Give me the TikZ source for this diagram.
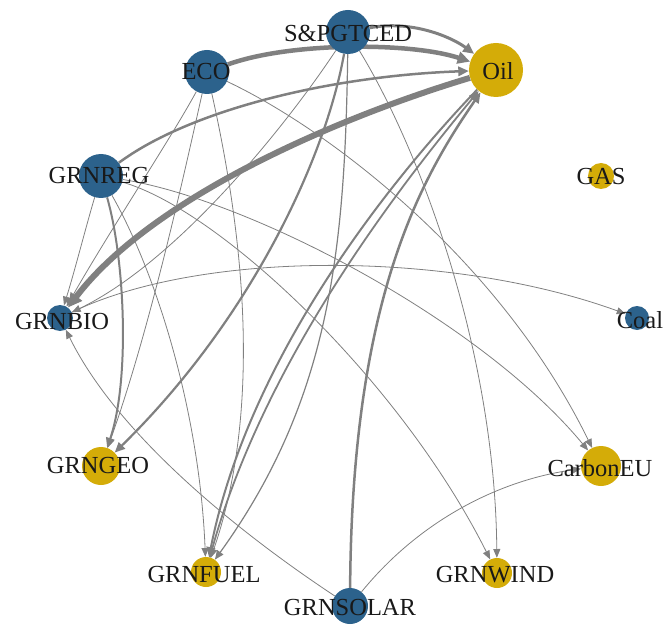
\documentclass[tikz,border=0pt]{standalone}
\usepackage{fontspec}
\setmainfont{Liberation Serif}
\usetikzlibrary{arrows.meta}
\pgfdeclarelayer{edgelayer}
\pgfsetlayers{edgelayer,main}
\definecolor{nblue}{RGB}{44,98,140}
\definecolor{ngold}{RGB}{212,172,8}
\definecolor{egray}{RGB}{128,128,128}
\definecolor{ltext}{RGB}{25,25,25}
\tikzset{
  vtx/.style={circle,inner sep=0pt,draw=none},
  bluev/.style={vtx,fill=nblue},
  goldv/.style={vtx,fill=ngold},
  lbl/.style={inner sep=0pt,text=ltext,font=\fontsize{24.5}{24.5}\selectfont},
  edge/.style={draw=egray,line width=0.8pt,-{Triangle[length=8pt 1,width=6pt 1.3]}},
}
\begin{document}
\begin{tikzpicture}[x=1pt,y=-1pt]
\useasboundingbox (0,0) rectangle (663,628);
% vertices
\node[bluev,minimum size=44pt] (S) at (348,32) {};
\node[bluev,minimum size=44pt] (ECO) at (207,72) {};
\node[goldv,minimum size=54pt] (Oil) at (496,70) {};
\node[bluev,minimum size=44pt] (REG) at (101,176) {};
\node[goldv,minimum size=26pt] (GAS) at (601,176) {};
\node[bluev,minimum size=26pt] (BIO) at (60,318) {};
\node[bluev,minimum size=24pt] (Coal) at (637,318) {};
\node[goldv,minimum size=38pt] (GEO) at (101,466) {};
\node[goldv,minimum size=40pt] (CEU) at (601,466) {};
\node[goldv,minimum size=30pt] (FUEL) at (206,572) {};
\node[goldv,minimum size=30pt] (WIND) at (497,573) {};
\node[bluev,minimum size=36pt] (SOLAR) at (350,606) {};
% labels
\node[lbl] (S-l) at (348,33) {S\&PGTCED};
\node[lbl] (ECO-l) at (206,72) {ECO};
\node[lbl] (Oil-l) at (498,71) {Oil};
\node[lbl] (REG-l) at (99,176) {GRNREG};
\node[lbl] (GAS-l) at (601,177) {GAS};
\node[lbl] (BIO-l) at (62,322) {GRNBIO};
\node[lbl] (Coal-l) at (640,320) {Coal};
\node[lbl] (GEO-l) at (98,466) {GRNGEO};
\node[lbl] (CEU-l) at (600,468) {CarbonEU};
\node[lbl] (FUEL-l) at (204,575) {GRNFUEL};
\node[lbl] (WIND-l) at (495,575) {GRNWIND};
\node[lbl] (SOLAR-l) at (350,608) {GRNSOLAR};
% edges
\begin{pgfonlayer}{edgelayer}
\draw[edge,line width=4.5pt] (ECO) .. controls (290,42) and (410,42) .. (Oil);
\draw[edge,line width=3pt] (S) .. controls (410,20) and (450,36) .. (Oil);
\draw[edge,line width=2.5pt] (REG) .. controls (190,110) and (330,76) .. (Oil);
\draw[edge,line width=6pt] (Oil) .. controls (330,120) and (150,200) .. (BIO);
\draw[edge,line width=2.5pt] (SOLAR) .. controls (352,300) and (420,180) .. (Oil);
\draw[edge,line width=2pt] (Oil) .. controls (400,170) and (250,350) .. (FUEL);
\draw[edge,line width=1.8pt] (FUEL) .. controls (262,360) and (405,180) .. (Oil);
\draw[edge,line width=2.2pt] (S) .. controls (325,160) and (250,320) .. (GEO);
\draw[edge,line width=1.2pt] (S) .. controls (345,250) and (330,400) .. (FUEL);
\draw[edge] (S) .. controls (420,150) and (495,350) .. (WIND);
\draw[edge] (S) .. controls (290,120) and (180,260) .. (BIO);
\draw[edge] (ECO) .. controls (185,170) and (150,330) .. (GEO);
\draw[edge] (ECO) .. controls (170,140) and (110,230) .. (BIO);
\draw[edge] (ECO) .. controls (240,220) and (265,400) .. (FUEL);
\draw[edge] (ECO) .. controls (330,130) and (500,260) .. (CEU);
\draw[edge] (REG) .. controls (85,230) and (75,270) .. (BIO);
\draw[edge,line width=2pt] (REG) .. controls (125,260) and (130,380) .. (GEO);
\draw[edge] (REG) .. controls (160,280) and (200,420) .. (FUEL);
\draw[edge] (REG) .. controls (250,200) and (480,320) .. (CEU);
\draw[edge] (REG) .. controls (220,210) and (400,380) .. (WIND);
\draw[edge] (BIO) .. controls (200,250) and (450,250) .. (Coal);
\draw[edge] (SOLAR) .. controls (250,540) and (120,440) .. (BIO);
\draw[edge] (SOLAR) .. controls (420,520) and (500,480) .. (CEU);
\end{pgfonlayer}
\end{tikzpicture}
\end{document}
